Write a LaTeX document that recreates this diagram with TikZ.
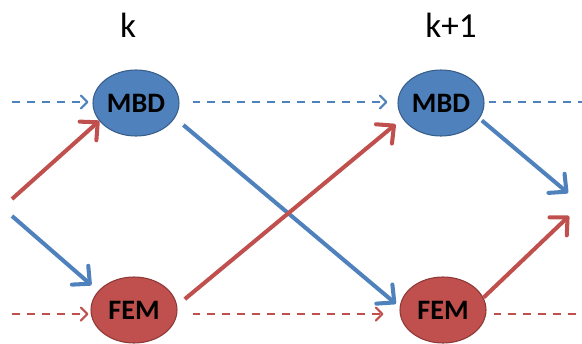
\documentclass[tikz,border=0pt]{standalone}
\usepackage{fontspec}
\setmainfont{Carlito}
\usetikzlibrary{arrows.meta,shapes.geometric}

\definecolor{mbdblue}{HTML}{4F81BD}
\definecolor{mbdline}{HTML}{385D8A}
\definecolor{femred}{HTML}{C0504D}
\definecolor{femline}{HTML}{8C3836}

\tikzset{
	solver/.style={ellipse, minimum width=1.72cm, minimum height=1.32cm, inner sep=0pt, line width=0.6pt, text=black, font=\fontsize{16}{18}\selectfont\bfseries},
	mbd/.style={solver, draw=mbdline, fill=mbdblue},
	fem/.style={solver, draw=femline, fill=femred},
	stepline/.style={line width=1.2pt, dash pattern=on 4.5pt off 4pt},
	steptip/.style={-{Straight Barb[length=1.3mm, width=2.6mm, round]}},
	couple/.style={line width=2.3pt, -{Straight Barb[length=2.6mm, width=5mm, round]}},
	timelabel/.style={anchor=base, font=\fontsize{20}{24}\selectfont}
}

\begin{document}
\begin{tikzpicture}
	\useasboundingbox (0,0) rectangle (11.64,6.86);

	% solvers at step k and k+1
	\node[mbd] (MBD1) at (2.72,4.80) {MBD};
	\node[fem] (FEM1) at (2.68,0.66) {FEM};
	\node[mbd] (MBD2) at (8.82,4.80) {MBD};
	\node[fem] (FEM2) at (8.86,0.66) {FEM};

	\node[timelabel] (k) at (2.56,6.12) {k};
	\node[timelabel] (k1) at (9.02,6.12) {k+1};

	% time lines
	\coordinate (t0) at (0.24,4.82);
	\coordinate (t1) at (11.64,4.82);
	\coordinate (f0) at (0.24,0.58);
	\coordinate (f1) at (11.64,0.58);

	\draw[stepline, steptip, mbdblue, shorten >=0.08cm] (t0) -- (t0 -| MBD1.west);
	\draw[stepline, steptip, mbdblue, shorten <=0.26cm, shorten >=0.2cm] (MBD1.east |- t0) -- (MBD2.west |- t0);
	\draw[stepline, mbdblue, shorten <=0.08cm] (MBD2.east |- t0) -- (t1);

	\draw[stepline, steptip, femred, shorten >=0.04cm] (f0) -- (f0 -| FEM1.west);
	\draw[stepline, steptip, femred, shorten <=0.3cm, shorten >=0.32cm] (FEM1.east |- f0) -- (FEM2.west |- f0);
	\draw[stepline, femred, shorten <=0.14cm] (FEM2.east |- f0) -- (f1);

	% coupling arrows
	\coordinate (r0) at (0.24,2.88);
	\coordinate (b0) at (0.24,2.54);
	\coordinate (b1) at (11.36,3.00);
	\coordinate (r1) at (11.38,2.54);

	\draw[couple, femred] (r0) -- (MBD1.206);
	\draw[couple, mbdblue, shorten >=0.18cm] (b0) -- (FEM1.152);
	\draw[couple, mbdblue, shorten <=0.22cm, shorten >=0.1cm] (MBD1.-21) -- (FEM2.176);
	\draw[couple, femred, shorten <=0.2cm, shorten >=0.18cm] (FEM1.6) -- (MBD2.202);
	\draw[couple, mbdblue, shorten <=0.06cm] (MBD2.-22) -- (b1);
	\draw[couple, femred] (FEM2.17) -- (r1);
\end{tikzpicture}
\end{document}
